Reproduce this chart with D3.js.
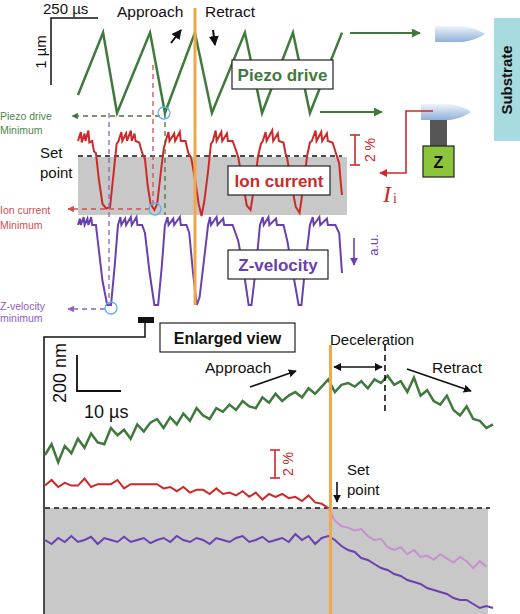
<!DOCTYPE html>
<html><head><meta charset="utf-8">
<script src="https://cdn.jsdelivr.net/npm/d3@7"></script>
<style>body{margin:0;background:#fff}text{font-family:"Liberation Sans",Arial,sans-serif}</style>
</head><body><svg id="c" width="520" height="614"></svg>
<script>
// ---- top panel data (time in µs) ----
const piezoT = [0,133,207,382,461,620,710,885,976,1140,1230,1400];
const piezoV = [0.27,1.2,0,1.2,0,1.2,0,1.2,0,1.2,0,1.2]; // µm
const ionPts = [[0,1.0],[15,1.6],[20,0.9],[35,1.5],[40,1.0],[55,1.7],[60,0.9],[75,1.0],[85,0.3],[95,0.2],
 [110,-1.5],[130,-3.2],[150,-3.5],[170,-3.4],[190,-1.0],[205,0.8],[215,1.0],
 [230,1.6],[235,1.0],[255,1.5],[260,1.0],[280,1.7],[285,1.0],[300,1.5],[305,1.0],[325,0.9],[340,0.2],[355,-0.2],
 [370,-2.0],[385,-3.2],[405,-3.6],[420,-3.2],[440,-1.0],[455,0.5],[465,1.0],
 [480,1.6],[485,1.0],[510,1.5],[515,1.0],[540,1.6],[545,1.0],[570,1.0],[585,0.2],[600,-0.1],
 [620,-1.5],[640,-3.2],[655,-4.0],[670,-3.0],[690,-1.0],[705,0.8],[715,1.0],
 [730,1.7],[735,1.0],[760,1.6],[765,1.0],[790,1.5],[795,1.0],[820,1.0],[840,0.3],[850,-0.1],
 [870,-1.5],[895,-3.3],[915,-3.6],[935,-2.0],[955,0],[970,0.8],[980,1.0],
 [995,1.6],[1000,1.0],[1030,1.7],[1035,1.0],[1060,1.5],[1065,1.0],[1090,0.9],[1100,0.2],[1110,-0.2],
 [1130,-1.8],[1155,-3.4],[1175,-3.8],[1195,-2.0],[1215,0],[1230,0.9],[1240,1.0],
 [1260,1.7],[1265,1.0],[1290,1.6],[1295,1.0],[1320,1.5],[1325,1.0],[1350,0.9],[1370,0.1],[1385,-0.5],[1395,-2.0],[1400,-2.6]];
const velPts = [[0,0],[10,0.08],[15,0],[30,0.1],[35,0],[50,0.08],[55,0],[70,0.1],[75,0],[95,0],
 [110,-0.3],[130,-0.7],[155,-1.0],[175,-1.0],[195,-0.5],[212,0],
 [225,0.1],[230,0],[250,0.08],[255,0],[280,0.1],[285,0],[310,0.1],[315,0],[340,0],[355,-0.1],
 [380,-0.6],[405,-1.0],[425,-1.0],[445,-0.5],[461,0],
 [475,0.1],[480,0],[505,0.08],[510,0],[540,0.1],[545,0],[575,0],[590,-0.1],[610,-0.6],[630,-1.0],[645,-0.9],[670,-0.4],[690,0],
 [700,0.1],[705,0],[735,0.1],[740,0],[770,0.08],[775,0],[820,0],[850,-0.2],[880,-0.6],[905,-1.0],[920,-1.0],[945,-0.5],[965,0],
 [980,0.1],[985,0],[1010,0.1],[1015,0],[1050,0.08],[1055,0],[1090,0],[1110,-0.2],[1140,-0.6],[1170,-1.0],[1185,-1.0],[1210,-0.4],[1230,0],
 [1245,0.1],[1250,0],[1280,0.1],[1285,0],[1320,0.08],[1325,0],[1365,0],[1385,-0.1],[1400,-0.6]];
// ---- enlarged view data (step 1.5 µs) ----
const greenNm = [0,60,-40,50,10,90,40,120,70,60,150,110,140,90,170,130,180,200,150,210,170,230,190,260,220,200,260,240,280,250,300,270,260,320,290,340,300,330,350,320,370,340,380,420,
 350,390,400,380,410,370,420,400,440,
 390,410,350,430,330,360,300,280,330,250,220,270,200,190,150,170];
const redPct = [1.6,2.0,1.5,1.8,1.6,1.6,2.1,1.5,1.7,1.7,1.7,2.0,1.4,1.7,1.7,1.7,1.7,1.7,1.4,1.5,1.2,1.5,1.1,1.3,1.3,1.0,1.4,1.0,1.1,0.9,1.2,0.8,1.1,0.6,1.0,0.8,1.0,0.7,0.8,0.5,0.9,0.4,0.3,0.0];
const lightPct = [0,-0.9,-1.3,-1.4,-1.6,-1.5,-2.0,-2.3,-2.2,-2.8,-3.0,-2.8,-3.3,-3.0,-3.5,-3.4,-3.7,-3.3,-3.6,-3.9,-3.5,-3.8,-4.3,-3.8,-4.2];
const velAU = [0,-0.1,0.05,-0.05,0.1,-0.05,0,0.08,-0.1,0.05,0,-0.05,0.08,-0.05,0,0.05,-0.08,0,0.05,-0.05,0.1,0,-0.05,0.05,0,-0.1,0.05,0,-0.05,0.05,0.1,-0.05,0,0.08,-0.05,0,0.05,-0.05,0.15,0,0.1,-0.1,0.05,0.1,
 0,-0.15,-0.25,-0.3,-0.45,-0.5,-0.6,-0.7,-0.75,-0.85,-0.9,-1.0,-1.05,-1.1,-1.2,-1.25,-1.3,-1.35,-1.45,-1.5,-1.5,-1.6,-1.7,-1.65,-1.7];

const G="#3f7a3c", R="#cc2a2a", P="#6a40b0", LP="#c890d0", OR="#f0a848", GR="#c8c8c8";
const svg=d3.select("#c");
const defs=svg.append("defs");
const lg=defs.append("linearGradient").attr("id","tip").attr("x1",0).attr("y1",0).attr("x2",0).attr("y2",1);
lg.append("stop").attr("offset",0).attr("stop-color","#eef4fb");
lg.append("stop").attr("offset",1).attr("stop-color","#8fb0d8");
function mk(id,c){defs.append("marker").attr("id",id).attr("viewBox","0 0 10 10").attr("refX",9).attr("refY",5).attr("markerWidth",5).attr("markerHeight",5).attr("orient","auto-start-reverse").append("path").attr("d","M0,0L10,5L0,10z").attr("fill",c);}
mk("mG",G);mk("mR",R);mk("mP",P);mk("mK","#111");mk("mRL","#d05050");mk("mPL","#9060c0");

function line(x1,y1,x2,y2,c,w,o={}){const l=svg.append("line").attr("x1",x1).attr("y1",y1).attr("x2",x2).attr("y2",y2).attr("stroke",c).attr("stroke-width",w);
 if(o.dash)l.attr("stroke-dasharray",o.dash); if(o.m)l.attr("marker-end","url(#"+o.m+")"); if(o.ms)l.attr("marker-start","url(#"+o.ms+")"); return l;}
function text(x,y,s,o={}){const t=svg.append("text").attr("x",x).attr("y",y).text(s).attr("font-size",o.size||14).attr("fill",o.fill||"#111");
 if(o.bold)t.attr("font-weight","bold"); if(o.anchor)t.attr("text-anchor",o.anchor); if(o.rot)t.attr("transform",`rotate(${o.rot},${x},${y})`); if(o.family)t.style("font-family",o.family); if(o.italic)t.attr("font-style","italic"); return t;}

// ---- top scales ----
const xT=d3.scaleLinear().domain([0,1400]).range([78,342]);
const yPz=d3.scaleLinear().domain([0,1.2]).range([113,32.6]);
const yIon=d3.scaleLinear().domain([0,2]).range([156,126]);
const yVel=d3.scaleLinear().domain([0,-1]).range([225,305]);

svg.append("rect").attr("x",78).attr("y",157).attr("width",269).attr("height",58).attr("fill",GR);
line(78,156,342,156,"#111",1.3,{dash:"5,4"});
svg.append("path").datum(piezoT.map((t,i)=>[t,piezoV[i]])).attr("fill","none").attr("stroke",G).attr("stroke-width",2.5)
 .attr("d",d3.line().x(d=>xT(d[0])).y(d=>yPz(d[1])));
svg.append("path").datum(ionPts).attr("fill","none").attr("stroke",R).attr("stroke-width",2)
 .attr("d",d3.line().x(d=>xT(d[0])).y(d=>yIon(d[1])));
svg.append("path").datum(velPts).attr("fill","none").attr("stroke",P).attr("stroke-width",2)
 .attr("d",d3.line().x(d=>xT(d[0])).y(d=>yVel(d[1])));

// guides
line(109,113,109,305,"#9060c0",1.3,{dash:"5,4"});
line(153,65,153,208,"#d05050",1.3,{dash:"5,4"});
line(165,113,165,215,G,1.3,{dash:"5,4"});
line(160,116,72,116,G,1.3,{dash:"5,4",m:"mG"});
line(150,209,68,209,"#d05050",1.3,{dash:"5,4",m:"mRL"});
line(105,309,68,309,"#9060c0",1.3,{dash:"5,4",m:"mPL"});
[[164,113],[155,209],[111,308]].forEach(c=>svg.append("circle").attr("cx",c[0]).attr("cy",c[1]).attr("r",6).attr("fill","none").attr("stroke","#5ab4e6").attr("stroke-width",1.3));
line(195,8,195,305,OR,3);

svg.append("path").attr("d","M98,18H51V85").attr("fill","none").attr("stroke","#111").attr("stroke-width",1.5);
text(43,14,"250 µs",{size:15});
text(46,52,"1 µm",{size:15,rot:-90,anchor:"middle"});
text(117,17,"Approach",{size:15.5});
text(205,17,"Retract",{size:15.5});
line(171,43,181,30,"#111",2,{m:"mK"});
line(213,30,215,45,"#111",2,{m:"mK"});

function box(x,y,w,h,s,c,sz){svg.append("rect").attr("x",x).attr("y",y).attr("width",w).attr("height",h).attr("fill","#fff").attr("stroke","#222").attr("stroke-width",1.2);
 text(x+w/2,y+h/2+6,s,{size:sz||17,bold:true,fill:c,anchor:"middle"});}
box(232,60,101,29,"Piezo drive",G);
box(228,166,102,29,"Ion current",R);
box(228,250,100,29,"Z-velocity",P);

text(0,120,"Piezo drive",{size:10.5,fill:"#4a8a48"});text(0,134,"Minimum",{size:10.5,fill:"#4a8a48"});
text(40,158,"Set",{size:15});text(40,178,"point",{size:15});
text(0,214,"Ion current",{size:10.5,fill:"#d05050"});text(0,229,"Minimum",{size:10.5,fill:"#d05050"});
text(0,310,"Z-velocity",{size:10.5,fill:"#9060c0"});text(0,322,"minimum",{size:10.5,fill:"#9060c0"});

line(350,33,420,33,G,1.8,{m:"mG"});
line(320,112,382,112,G,1.8,{m:"mG"});
svg.append("path").attr("d","M435,26H463Q478,29 485,34Q478,39 463,42H435Z").attr("fill","url(#tip)");
svg.append("path").attr("d","M421,104H450Q465,107 471,112Q465,117 450,120H421Z").attr("fill","url(#tip)");
svg.append("rect").attr("x",494).attr("y",18).attr("width",26).attr("height",123).attr("fill","#a8dbe0");
text(512,80,"Substrate",{size:15,bold:true,rot:-90,anchor:"middle"});
svg.append("rect").attr("x",430).attr("y",120).attr("width",17).attr("height",26).attr("fill","#555");
svg.append("rect").attr("x",423).attr("y",146).attr("width",31).attr("height",31).attr("fill","#8cc43c").attr("stroke","#222").attr("stroke-width",1.2);
text(438.5,168,"Z",{size:16,bold:true,anchor:"middle"});
svg.append("path").attr("d","M433,111H406V173H380").attr("fill","none").attr("stroke",R).attr("stroke-width",1.6).attr("marker-end","url(#mR)");
text(383,202,"I",{size:24,italic:true,fill:R,family:"Liberation Serif"});
text(393,203,"i",{size:14,fill:R,family:"Liberation Serif"});
line(355,135,355,165,R,1.6);line(350,135,360,135,R,1.6);line(350,165,360,165,R,1.6);
text(375,150,"2 %",{size:14,fill:R,rot:-90,anchor:"middle"});
line(354,238,354,265,P,1.6,{m:"mP"});
text(378,245,"a.u.",{size:13,fill:P,rot:-90,anchor:"middle"});

svg.append("rect").attr("x",138).attr("y",317).attr("width",16).attr("height",6).attr("fill","#111");
svg.append("path").attr("d","M145,323V337H44V614").attr("fill","none").attr("stroke","#111").attr("stroke-width",1.5);
box(160,323,135,29,"Enlarged view","#111",16);

const xB=d3.scaleLinear().domain([0,102]).range([45,493]);
const yGn=d3.scaleLinear().domain([0,200]).range([455,419]);
const yRd=d3.scaleLinear().domain([0,2]).range([508,480]);
const yVb=d3.scaleLinear().domain([0,-1]).range([540,580]);
svg.append("rect").attr("x",45).attr("y",508).attr("width",443).attr("height",106).attr("fill",GR);
line(45,508,490,508,"#111",1.3,{dash:"5,4"});
const tt=i=>i*1.5;
svg.append("path").datum(greenNm).attr("fill","none").attr("stroke",G).attr("stroke-width",2.5).attr("d",d3.line().x((d,i)=>xB(tt(i))).y(d=>yGn(d)));
svg.append("path").datum(redPct).attr("fill","none").attr("stroke",R).attr("stroke-width",2).attr("d",d3.line().x((d,i)=>xB(tt(i))).y(d=>yRd(d)));
svg.append("path").datum(lightPct).attr("fill","none").attr("stroke",LP).attr("stroke-width",2).attr("d",d3.line().x((d,i)=>xB(tt(i+43))).y(d=>yRd(d)));
svg.append("path").datum(velAU).attr("fill","none").attr("stroke",P).attr("stroke-width",2).attr("d",d3.line().x((d,i)=>xB(tt(i))).y(d=>yVb(d)));
line(xB(65),345,xB(65),614,OR,3);
line(385,345,385,415,"#111",1.6,{dash:"6,4"});
svg.append("path").attr("d","M77,355V391H121").attr("fill","none").attr("stroke","#111").attr("stroke-width",1.8);
text(66,373,"200 nm",{size:18,rot:-90,anchor:"middle"});
text(84,418,"10 µs",{size:18});
text(330,345,"Deceleration",{size:15});
line(334,367,382,367,"#111",1.6,{m:"mK",ms:"mK"});
text(205,373,"Approach",{size:15.5});
line(250,387,296,371,"#111",1.6,{m:"mK"});
text(432,373,"Retract",{size:15.5});
line(407,369,471,391,"#111",1.6,{m:"mK"});
line(275,450,275,478,R,1.6);line(270,450,280,450,R,1.6);line(270,478,280,478,R,1.6);
text(293,464,"2 %",{size:14,fill:R,rot:-90,anchor:"middle"});
text(347,475,"Set",{size:15});text(347,495,"point",{size:15});
line(337,482,337,502,"#111",1.6,{m:"mK"});
</script></body></html>
